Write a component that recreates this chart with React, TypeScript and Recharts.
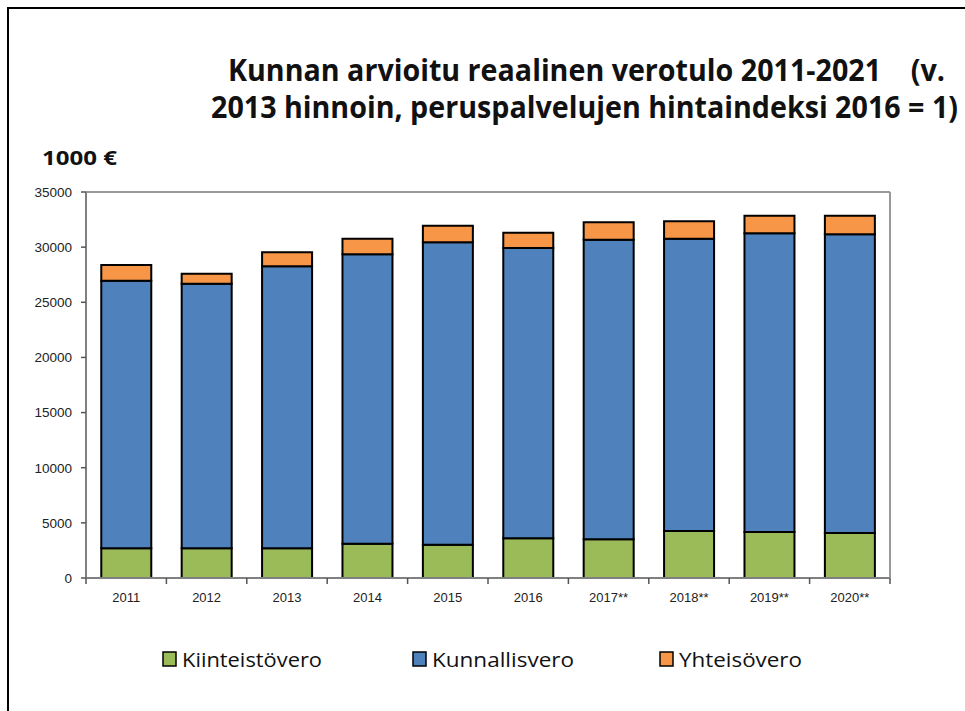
import React from 'react';
import { BarChart, Bar, XAxis, YAxis } from 'recharts';

const years = ['2011', '2012', '2013', '2014', '2015', '2016', '2017**', '2018**', '2019**', '2020**'];
const kiinteistovero = [2690, 2690, 2690, 3110, 3020, 3600, 3510, 4260, 4170, 4080];
const kunnallisvero = [24270, 23990, 25570, 26240, 27420, 26320, 27170, 26500, 27080, 27080];
const yhteisovero = [1420, 910, 1270, 1410, 1500, 1390, 1570, 1580, 1600, 1690];
const yTicks = [0, 5000, 10000, 15000, 20000, 25000, 30000, 35000];

const data = years.map((year, i) => ({
  year,
  kiinteisto: kiinteistovero[i],
  kunnallis: kunnallisvero[i],
  yhteiso: yhteisovero[i],
}));

const W = 965;
const H = 711;
const plotLeft = 86;
const plotRight = 890;
const band = (plotRight - plotLeft) / years.length;

const GREEN = '#9BBB59';
const BLUE = '#4F81BD';
const ORANGE = '#F79646';

function XTick(props: any) {
  const { x, y, payload, index } = props;
  const isLast = index === years.length - 1;
  return (
    <g>
      <line x1={x - band / 2} y1={y} x2={x - band / 2} y2={y + 6} stroke="#555" strokeWidth={1.5} />
      {isLast && (
        <line x1={x + band / 2} y1={y} x2={x + band / 2} y2={y + 6} stroke="#555" strokeWidth={1.5} />
      )}
      <text x={x} y={y + 24} textAnchor="middle" fontSize={13} fill="#222" fontFamily="'Liberation Sans', Arial">
        {payload.value}
      </text>
    </g>
  );
}

const legendItems = [
  { label: 'Kiinteistövero', color: GREEN, x: 163, w: 140 },
  { label: 'Kunnallisvero', color: BLUE, x: 413, w: 142 },
  { label: 'Yhteisövero', color: ORANGE, x: 660, w: 123 },
];

// title lines are squeezed horizontally, Calibri is not installed
const SQ = 0.86;

export default function App() {
  return (
    <div style={{ position: 'absolute', left: 0, top: 0, width: W, height: H, background: '#fff' }}>
      <div
        style={{
          position: 'absolute',
          left: 7,
          top: 7,
          width: W - 7,
          height: H - 7,
          borderLeft: '2px solid #000',
          borderTop: '2px solid #000',
        }}
      />
      <div style={{ position: 'absolute', left: 0, top: 0 }}>
        <BarChart
          width={W}
          height={H}
          data={data}
          margin={{ top: 191, right: W - plotRight - 1, bottom: 103, left: plotLeft - 60 }}
          barCategoryGap="19%"
        >
          <XAxis
            dataKey="year"
            height={30}
            axisLine={{ stroke: '#808080', strokeWidth: 2 }}
            tickLine={false}
            tickSize={0}
            tickMargin={0}
            interval={0}
            tick={<XTick />}
          />
          <XAxis
            xAxisId="top"
            dataKey="year"
            orientation="top"
            height={1}
            tick={false}
            tickLine={false}
            axisLine={{ stroke: '#999', strokeWidth: 2 }}
          />
          <YAxis
            width={60}
            domain={[0, 35000]}
            ticks={yTicks}
            interval={0}
            tickSize={5}
            tickMargin={9}
            axisLine={{ stroke: '#808080', strokeWidth: 2 }}
            tickLine={{ stroke: '#555', strokeWidth: 1.5 }}
            tick={{ fontSize: 13.5, fill: '#222', fontFamily: "'Liberation Sans', Arial" }}
          />
          <YAxis
            yAxisId="right"
            orientation="right"
            width={1}
            domain={[0, 35000]}
            tick={false}
            tickLine={false}
            axisLine={{ stroke: '#999', strokeWidth: 2 }}
          />
          <Bar dataKey="kiinteisto" stackId="a" fill={GREEN} stroke="#000" strokeWidth={2} isAnimationActive={false} />
          <Bar dataKey="kunnallis" stackId="a" fill={BLUE} stroke="#000" strokeWidth={2} isAnimationActive={false} />
          <Bar dataKey="yhteiso" stackId="a" fill={ORANGE} stroke="#000" strokeWidth={2} isAnimationActive={false} />
        </BarChart>
      </div>
      <svg
        width={W}
        height={H}
        style={{ position: 'absolute', left: 0, top: 0, pointerEvents: 'none' }}
        fontFamily="'Open Sans', 'Noto Sans', sans-serif"
      >
        <g transform={`translate(228,81) scale(${SQ},1)`}>
          <text x={0} y={0} fontSize={30} fontWeight={700} fill="#111" textLength={717 / SQ} lengthAdjust="spacingAndGlyphs">
            Kunnan arvioitu reaalinen verotulo 2011-2021{'\u00a0\u00a0\u00a0\u00a0'}(v.
          </text>
        </g>
        <g transform={`translate(211,118) scale(${SQ},1)`}>
          <text x={0} y={0} fontSize={30} fontWeight={700} fill="#111" textLength={747 / SQ} lengthAdjust="spacingAndGlyphs">
            2013 hinnoin, peruspalvelujen hintaindeksi 2016 = 1)
          </text>
        </g>
        <text x={42} y={165} fontSize={19} fontWeight={700} fill="#111" textLength={75} lengthAdjust="spacingAndGlyphs">
          1000 €
        </text>
        {legendItems.map((it) => (
          <g key={it.label}>
            <rect x={it.x} y={652} width={13} height={14} fill={it.color} stroke="#000" strokeWidth={1.5} />
            <text x={it.x + 19} y={667} fontSize={20} fill="#111" textLength={it.w} lengthAdjust="spacingAndGlyphs">
              {it.label}
            </text>
          </g>
        ))}
      </svg>
    </div>
  );
}
